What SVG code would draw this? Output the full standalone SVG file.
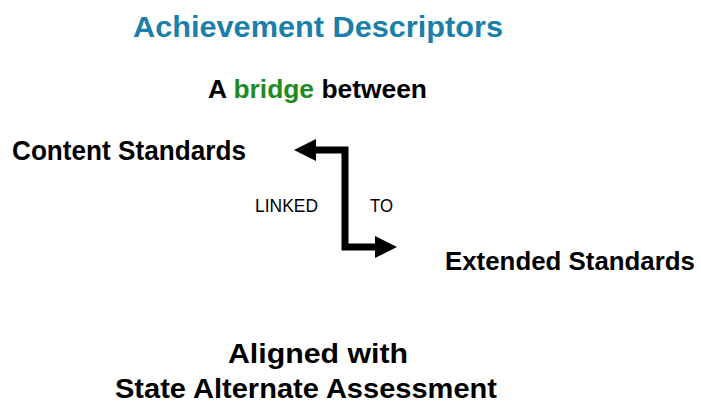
<svg xmlns="http://www.w3.org/2000/svg" width="701" height="405" viewBox="0 0 701 405">
  <style>
    text { font-family: "Liberation Sans", Arial, sans-serif; fill: #000; }
    .b { font-weight: bold; }
    .title { font-weight: bold; fill: #1b7fab; font-size: 30px; }
    .big { font-size: 27px; }
    .ext { font-size: 26px; }
    .mid { font-size: 25px; }
    .small { font-size: 19px; }
    .green { fill: #1f8a1f; }
    .link { fill: none; stroke: #000; stroke-width: 7; stroke-linejoin: miter; }
  </style>
  <defs>
    <marker id="head" markerUnits="userSpaceOnUse" markerWidth="22" markerHeight="22" refX="2" refY="11" orient="auto-start-reverse">
      <polygon points="0,0 22,11 0,22" fill="#000"/>
    </marker>
  </defs>

  <rect width="701" height="405" fill="#fff"/>

  <g id="title">
    <text class="title" x="133" y="37" textLength="370" lengthAdjust="spacingAndGlyphs">Achievement Descriptors</text>
  </g>

  <g id="subtitle">
    <text class="b mid" x="208" y="98" textLength="219" lengthAdjust="spacingAndGlyphs">A <tspan class="green">bridge</tspan> between</text>
  </g>

  <g id="content-standards">
    <text class="b big" x="12" y="160" textLength="234" lengthAdjust="spacingAndGlyphs">Content Standards</text>
  </g>

  <g id="extended-standards">
    <text class="b ext" x="445" y="270" textLength="250" lengthAdjust="spacingAndGlyphs">Extended Standards</text>
  </g>

  <g id="connectors">
    <path class="link" d="M 314 150 L 345 150 L 345 247 L 377 247" marker-start="url(#head)" marker-end="url(#head)"/>
    <text class="small" x="255" y="212" textLength="63" lengthAdjust="spacingAndGlyphs">LINKED</text>
    <text class="small" x="370" y="212" textLength="23" lengthAdjust="spacingAndGlyphs">TO</text>
  </g>

  <g id="footer">
    <text class="b big" x="228" y="363" textLength="180" lengthAdjust="spacingAndGlyphs">Aligned with</text>
    <text class="b big" x="115" y="398" textLength="382" lengthAdjust="spacingAndGlyphs">State Alternate Assessment</text>
  </g>
</svg>
